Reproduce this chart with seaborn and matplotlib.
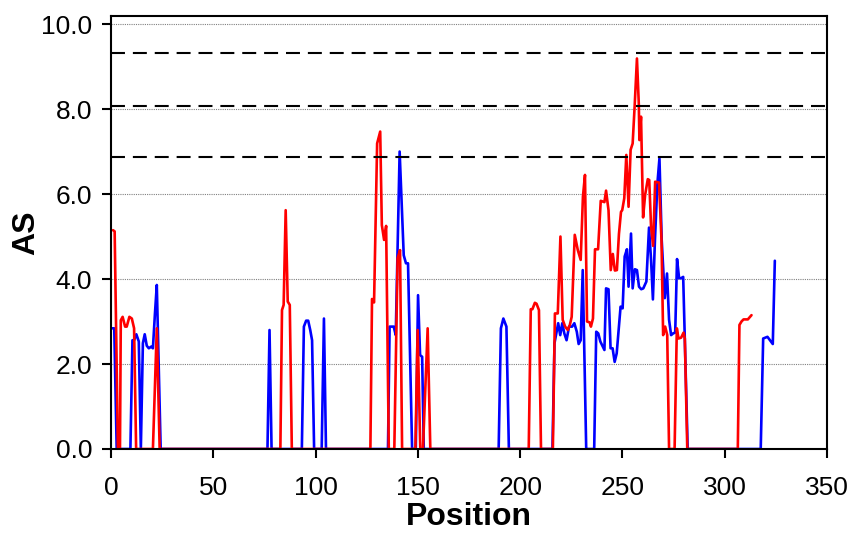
import numpy as np
import pandas as pd
import matplotlib
matplotlib.use("Agg")
import matplotlib.pyplot as plt
import seaborn as sns

# red profile: position / AS value
red_pos = [1.0, 1.8, 3.4, 4.4, 4.8, 5.7, 6.9, 7.7, 9.0, 10.2, 11.3, 12.3, 20.5, 22.4, 23.8,
           82.8, 83.6, 84.4, 85.4, 86.4, 87.4, 88.4,
           126.8, 127.6, 128.6, 130.1, 131.6, 132.4, 133.5, 134.5, 135.8,
           138.5, 140.1, 141.3, 142.3, 148.8, 149.9, 151.2, 152.5, 154.8, 156.1,
           204.2, 205.2, 206.0, 207.2, 208.0, 209.2, 210.2,
           216.0, 217.0, 218.4, 219.7, 220.8, 222.0, 223.3, 224.3, 225.2, 226.7, 228.2, 229.6,
           230.7, 231.7, 232.7, 234.0, 234.6, 235.6, 236.6, 238.1, 239.4, 241.2, 242.0, 243.2,
           244.3, 245.3, 246.3, 247.3, 248.3, 249.3, 249.9, 250.9, 251.9, 253.0, 254.0, 255.0,
           256.0, 257.1, 258.0, 258.3, 259.1, 260.1, 261.1, 262.4, 263.1, 264.0, 265.0, 266.0,
           267.9, 269.1, 269.9, 270.9, 271.9, 272.8, 275.5, 276.6, 277.4, 278.7, 279.9, 280.5,
           281.7, 306.4, 307.2, 308.2, 309.2, 311.3, 313.1]
red_as = [5.15, 5.12, 0, 0, 3.03, 3.11, 2.88, 2.88, 3.11, 3.07, 2.84, 0, 0, 2.84, 0,
          0, 3.27, 3.39, 5.62, 3.47, 3.39, 0,
          0, 3.53, 3.45, 7.19, 7.47, 5.27, 4.92, 5.25, 0,
          0, 4.49, 4.68, 0, 0, 2.8, 0, 0, 2.84, 0,
          0, 3.29, 3.29, 3.44, 3.42, 3.27, 0,
          0, 3.19, 3.19, 5.0, 3.04, 2.88, 2.8, 2.92, 3.11, 5.04, 4.68, 4.45,
          5.94, 6.45, 3.0, 2.98, 2.88, 3.07, 4.7, 4.7, 5.84, 5.81, 6.08, 5.62,
          4.21, 4.59, 4.2, 4.21, 5.06, 5.58, 5.62, 5.9, 6.92, 5.7, 7.04, 7.19,
          8.09, 9.19, 8.13, 7.27, 7.82, 5.45, 5.98, 6.35, 6.33, 5.23, 4.78, 6.29,
          6.27, 4.92, 2.68, 2.88, 2.68, 0, 0, 2.84, 2.6, 2.62, 2.74, 2.6,
          0, 0, 2.92, 3.0, 3.05, 3.05, 3.15]

# blue profile
blue_pos = [0.5, 1.6, 2.8, 9.5, 10.5, 11.3, 12.4, 13.6, 14.6, 15.6, 16.5, 17.5, 18.5, 19.7,
            20.5, 21.5, 22.4, 24.3,
            76.5, 77.5, 78.5, 93.3, 94.3, 95.4, 96.4, 97.4, 98.3, 99.3, 103.0, 104.1, 105.1,
            135.4, 136.2, 138.2, 139.2, 141.1, 143.1, 144.2, 145.2, 147.2,
            149.0, 150.1, 151.1, 152.1, 152.9,
            189.5, 190.6, 191.8, 193.3, 194.5,
            215.8, 216.8, 218.6, 219.6, 220.6, 221.6, 222.7, 223.9, 225.4, 226.5, 227.7, 228.6,
            229.6, 230.6, 232.3, 236.2, 237.2, 238.2, 239.2, 241.2, 242.0, 243.2, 244.2, 245.2,
            246.2, 247.2, 249.1, 250.1, 251.1, 252.2, 253.0, 254.2, 255.0, 256.1, 257.1, 258.1,
            259.2, 260.2, 261.7, 263.0, 264.0, 264.9, 265.9, 267.1, 268.1, 269.2, 270.7, 271.8,
            272.8, 273.8, 274.8, 275.8, 276.7, 277.7, 278.7, 279.7, 281.9,
            317.6, 318.8, 320.9, 323.5, 324.5]
blue_as = [2.84, 2.84, 0, 0, 2.56, 2.56, 2.7, 2.53, 0, 2.49, 2.7, 2.43, 2.37, 2.41,
           2.37, 3.19, 3.86, 0,
           0, 2.8, 0, 0, 2.88, 3.02, 3.02, 2.8, 2.56, 0, 0, 3.07, 0,
           0, 2.88, 2.88, 2.68, 7.0, 4.56, 4.37, 4.37, 0,
           0, 3.62, 2.21, 2.17, 0,
           0, 2.84, 3.07, 2.88, 0,
           0, 2.49, 2.96, 2.68, 2.96, 2.72, 2.56, 2.88, 2.88, 2.96, 2.76, 2.47,
           2.56, 4.21, 0, 0, 2.76, 2.72, 2.53, 2.33, 3.78, 3.76, 2.37, 2.37,
           2.05, 2.25, 3.35, 3.31, 4.53, 4.7, 3.82, 5.07, 3.78, 4.23, 4.21, 3.82,
           3.76, 3.78, 3.94, 5.21, 4.45, 3.52, 4.92, 6.25, 6.84, 4.92, 3.55, 4.13,
           3.04, 2.68, 2.72, 2.74, 4.47, 4.02, 4.02, 4.05, 0,
           0, 2.6, 2.64, 2.47, 4.43]

# threshold levels (dashed)
thresholds = [9.31, 8.07, 6.88]

sns.set_style("white")
plt.rcParams['font.family'] = ['Liberation Sans', 'DejaVu Sans']

fig = plt.figure(figsize=(8.51, 5.33), dpi=100)
ax = fig.add_axes([0.1304, 0.1576, 0.9718 - 0.1304, 0.97 - 0.1576])

red_df = pd.DataFrame({"Position": red_pos, "AS": red_as})
blue_df = pd.DataFrame({"Position": blue_pos, "AS": blue_as})

ax.yaxis.grid(True, linestyle=(0, (1, 1)), color="#808080", linewidth=0.8)
ax.set_axisbelow(True)

sns.lineplot(data=blue_df, x="Position", y="AS", color="#0000ff", linewidth=1.9,
             sort=False, estimator=None, ax=ax)
sns.lineplot(data=red_df, x="Position", y="AS", color="#ff0000", linewidth=1.9,
             sort=False, estimator=None, ax=ax)

for t in thresholds:
    ax.axhline(t, xmin=0, xmax=0.997, color="black", linewidth=1.5,
               linestyle=(0, (6.7, 3.8)))

ax.set_xlim(0, 350)
ax.set_ylim(0, 10.19)
ax.set_xticks(np.arange(0, 351, 50))
ax.set_yticks(np.arange(0, 10.1, 2))
ax.set_yticklabels([f"{v:.1f}" for v in np.arange(0, 10.1, 2)])

for s in ax.spines.values():
    s.set_visible(True)
    s.set_linewidth(1.5)
    s.set_color("black")

ax.tick_params(axis="both", direction="out", length=6.5, width=1.5, labelsize=19,
               colors="black", bottom=True, left=True)
ax.tick_params(axis="x", pad=13)
ax.tick_params(axis="y", pad=7)

ax.set_xlabel("Position", fontsize=23, fontweight="bold", labelpad=1.5, color="black")
ax.set_ylabel("AS", fontsize=23, fontweight="bold", labelpad=0, color="black")

fig.savefig("out.png", dpi=100)
